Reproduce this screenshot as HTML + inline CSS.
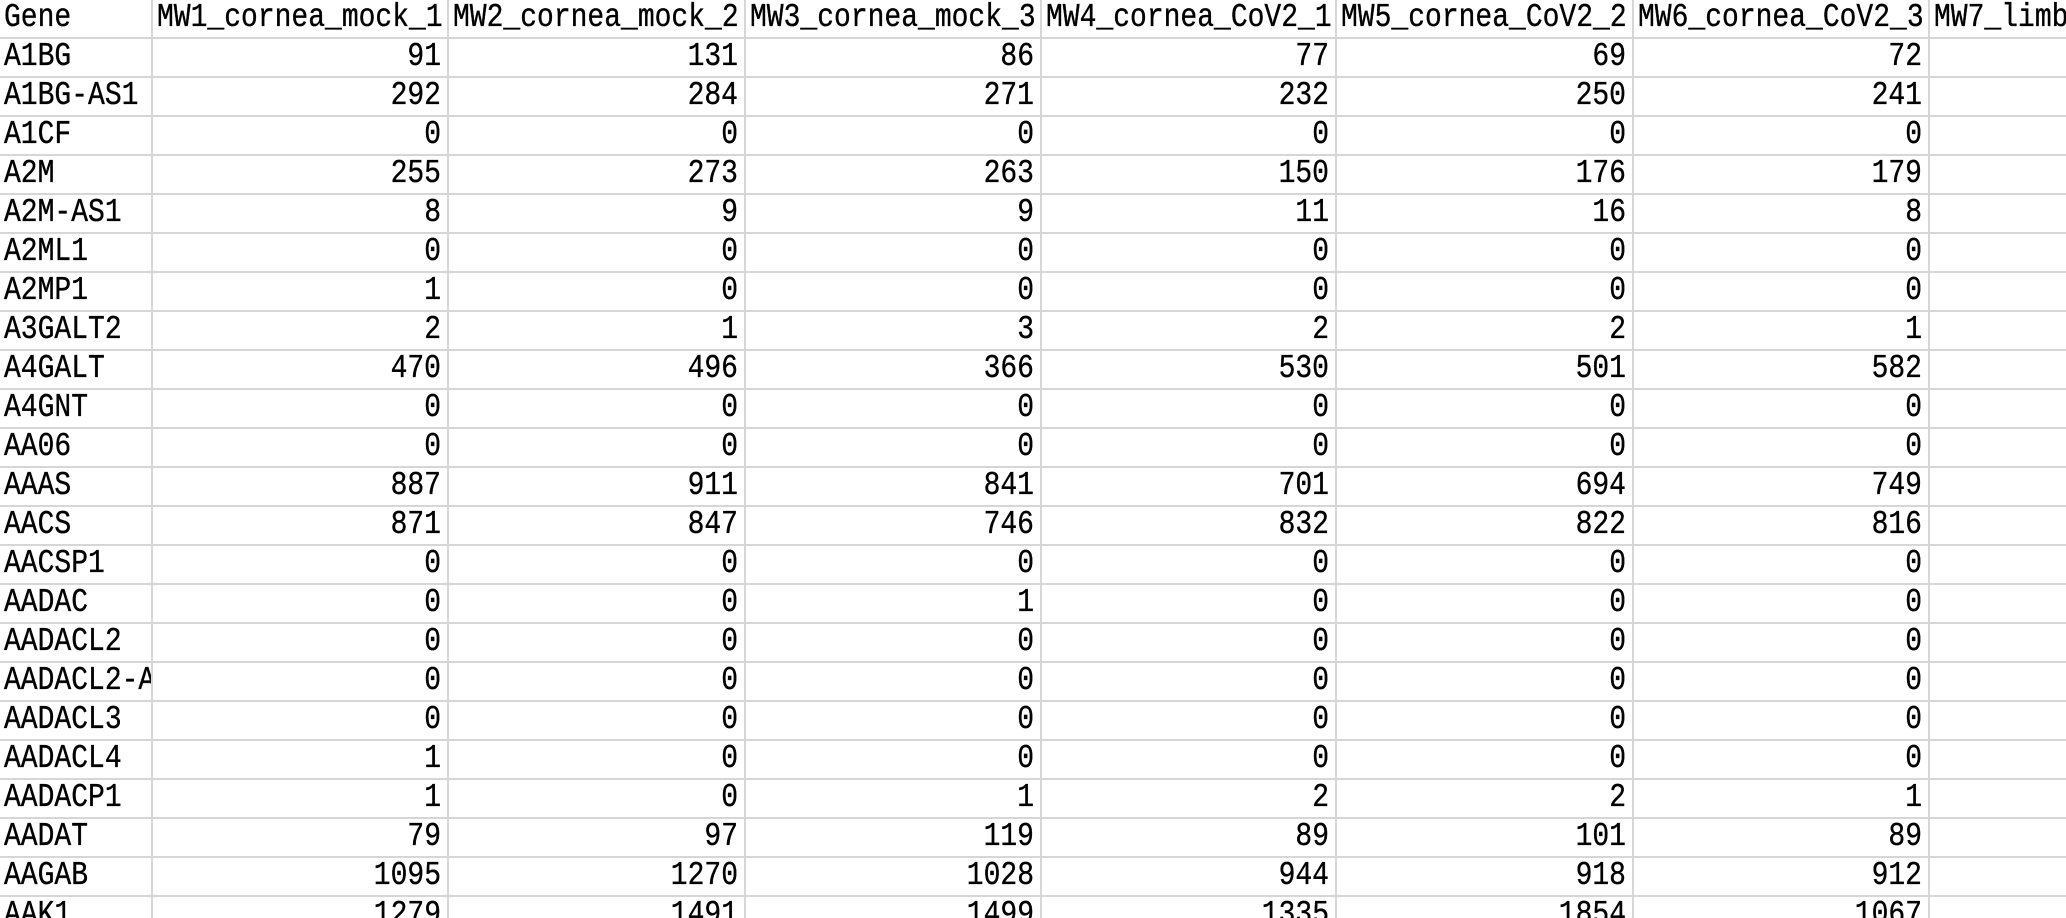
<!DOCTYPE html>
<html><head><meta charset="utf-8"><style>
html,body{margin:0;padding:0;background:#fff;width:2066px;height:918px;overflow:hidden}
#sheet{position:relative;width:2066px;height:918px;overflow:hidden;font-family:"Liberation Mono","DejaVu Sans Mono",monospace;font-size:28px;color:#000}
.c{position:absolute;box-sizing:border-box;border-right:2px solid #d6d6d6;border-bottom:2px solid #d6d6d6;overflow:hidden;white-space:nowrap;line-height:37px;padding:0 6px 0 4px}
.c span{display:inline-block;transform:scaleY(1.18);-webkit-text-stroke:0.3px #000}
.n{text-align:right}
</style></head><body>
<div id="sheet"></div>
<script>
const headers=["Gene","MW1_cornea_mock_1","MW2_cornea_mock_2","MW3_cornea_mock_3","MW4_cornea_CoV2_1","MW5_cornea_CoV2_2","MW6_cornea_CoV2_3","MW7_limbus_mock_1"];
const genes=["A1BG","A1BG-AS1","A1CF","A2M","A2M-AS1","A2ML1","A2MP1","A3GALT2","A4GALT","A4GNT","AA06","AAAS","AACS","AACSP1","AADAC","AADACL2","AADACL2-AS1","AADACL3","AADACL4","AADACP1","AADAT","AAGAB","AAK1"];
const values=[
[91,131,86,77,69,72],[292,284,271,232,250,241],[0,0,0,0,0,0],[255,273,263,150,176,179],
[8,9,9,11,16,8],[0,0,0,0,0,0],[1,0,0,0,0,0],[2,1,3,2,2,1],[470,496,366,530,501,582],
[0,0,0,0,0,0],[0,0,0,0,0,0],[887,911,841,701,694,749],[871,847,746,832,822,816],
[0,0,0,0,0,0],[0,0,1,0,0,0],[0,0,0,0,0,0],[0,0,0,0,0,0],[0,0,0,0,0,0],[1,0,0,0,0,0],
[1,0,1,2,2,1],[79,97,119,89,101,89],[1095,1270,1028,944,918,912],[1279,1491,1499,1335,1854,1067]];
const sheet=document.getElementById('sheet');
const colX=[0,153,449,746,1042,1337,1634,1930,2066];
const rowH=39, headH=39;
function cell(x,y,w,h,txt,num,name,last){
  const d=document.createElement('div');
  d.className='c'+(num?' n':'');
  d.style.left=x+'px';d.style.top=y+'px';d.style.width=w+'px';d.style.height=h+'px';
  if(last) d.style.borderRight='none';
  const s=document.createElement('span');
  s.textContent=txt;
  d.appendChild(s);
  
  
  sheet.appendChild(d);
}
headers.forEach((h,i)=>cell(colX[i],0,colX[i+1]-colX[i],headH,h,false,'header-'+(i===0?'gene':'col-'+i),i===7));
genes.forEach((g,r)=>{
  const y=headH+r*rowH;
  cell(0,y,colX[1],rowH,g,false,'gene-cell',false);
  for(let c=0;c<7;c++){
    const v=c<6?values[r][c]:'';
    cell(colX[c+1],y,colX[c+2]-colX[c+1],rowH,String(v),true,'value-cell',c===6);
  }
});
</script>
</body></html>
